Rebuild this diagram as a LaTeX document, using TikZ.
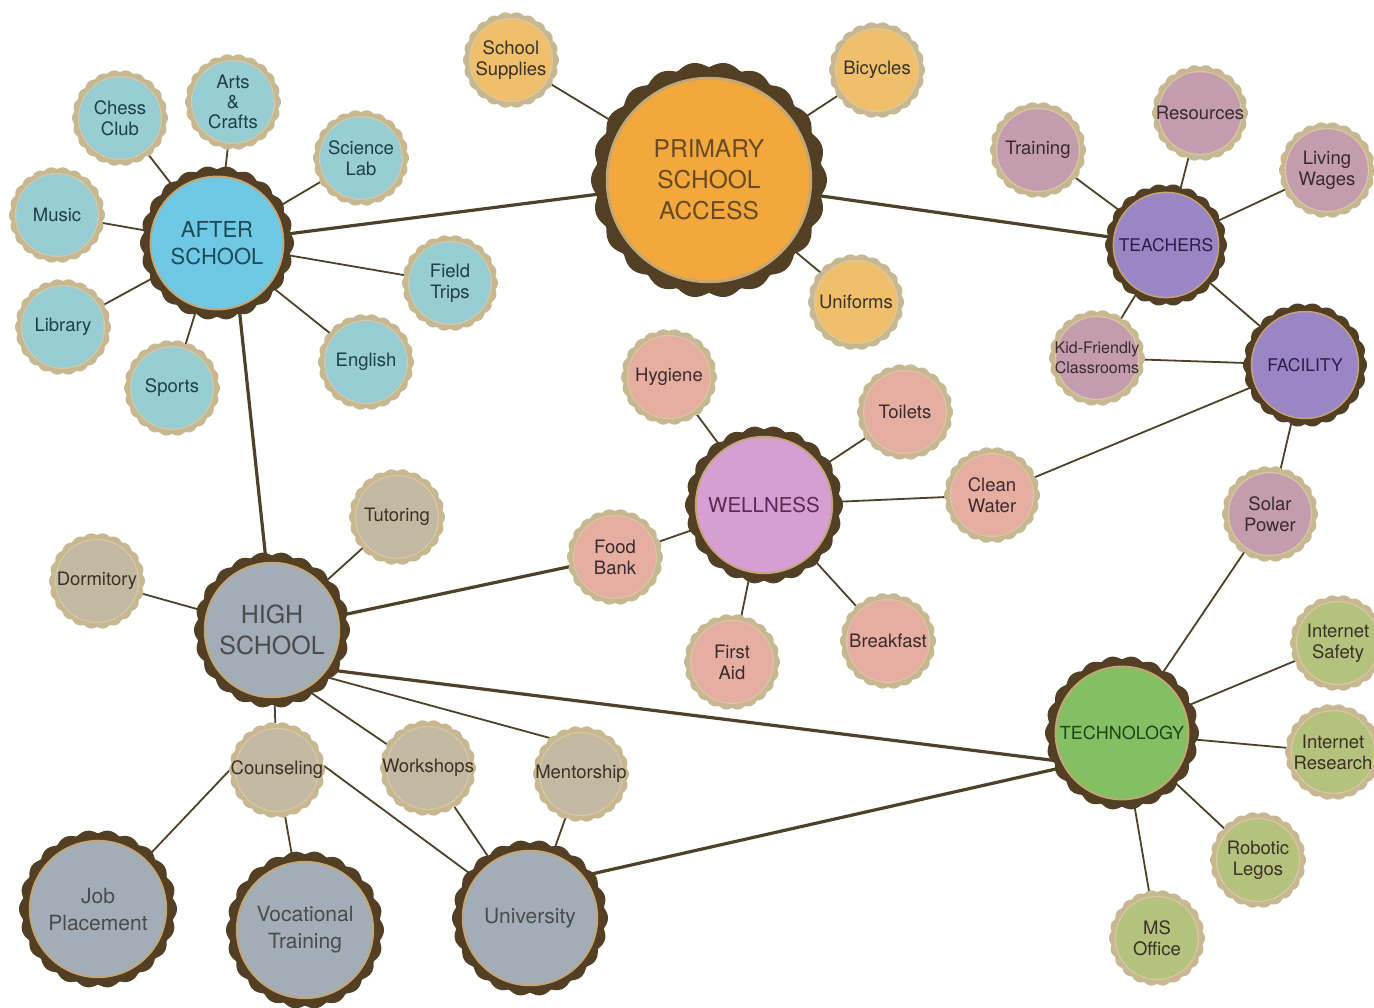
\documentclass[tikz,border=0pt]{standalone}
\usepackage{fontspec}
\setmainfont{TeX Gyre Heros}
\pgfdeclarelayer{edges}
\pgfdeclarelayer{caps}
\pgfsetlayers{edges,caps,main}
\definecolor{capbrown}{HTML}{523F24}
\definecolor{capglint}{HTML}{C4A674}
\definecolor{captan}{HTML}{C8B892}
\definecolor{tanglint}{HTML}{D8C9A4}
\definecolor{linecol}{HTML}{4E412A}
\definecolor{orangeS}{HTML}{EFBF6C}
\definecolor{orangeM}{HTML}{F2A83C}
\definecolor{tealS}{HTML}{98CDD3}
\definecolor{tealM}{HTML}{6FC9E4}
\definecolor{mauveS}{HTML}{C39DAD}
\definecolor{purpleM}{HTML}{9A85C5}
\definecolor{salmonS}{HTML}{E6AEA0}
\definecolor{orchidM}{HTML}{D69FD4}
\definecolor{grayS}{HTML}{C3B9A2}
\definecolor{slateM}{HTML}{A3ADB8}
\definecolor{greenS}{HTML}{B4C27D}
\definecolor{greenM}{HTML}{84BF63}
\definecolor{txtdark}{HTML}{3A3226}
\definecolor{txtteal}{HTML}{1E3F48}
\definecolor{txtbrown}{HTML}{6A4A20}
\definecolor{txtblue}{HTML}{1C4A5A}
\definecolor{txtgray}{HTML}{4B4B4B}
\definecolor{txtpurple}{HTML}{2A1F4A}
\definecolor{txtplum}{HTML}{5A2A52}
\definecolor{txtgreen}{HTML}{1D451A}
\definecolor{txtmauve}{HTML}{3A2A30}

% #1 node options, #2 name, #3 x, #4 y, #5 outer radius, #6 ring, #7 glint, #8 fill, #9 text
\newcommand{\capnode}[9][]{%
  \begin{pgfonlayer}{caps}
    \fill[#6, shift={(#3,#4)}] plot[domain=0:360, samples=331, variable=\t]
      ({\t}:{#5*(0.955+0.045*abs(cos(11*\t)))}) -- cycle;
    \fill[#7] (#3,#4) circle ({0.875*#5});
    \fill[#8] (#3,#4) circle ({0.85*#5});
  \end{pgfonlayer}
  \node[circle, inner sep=0pt, align=center, minimum size={1.9*#5*1pt}, #1] (#2) at (#3,#4) {#9};
}
\newcommand{\mainnode}[7][]{\capnode[#1]{#2}{#3}{#4}{#5}{capbrown}{capglint}{#6}{#7}}
\newcommand{\smallnode}[6][]{\capnode[#1]{#2}{#3}{#4}{48}{captan}{tanglint}{#5}{#6}}

\tikzset{
  smalltxt/.style={font=\fontsize{18.5}{21}\selectfont, text=txtdark},
  link/.style={draw=linecol, line width=1.8pt},
  heavy/.style={draw=linecol, line width=3.2pt},
}

\begin{document}
\begin{tikzpicture}[x=1pt, y=-1pt]
\useasboundingbox (0,0) rectangle (1374,1008);

% ---- main caps
\mainnode[font=\fontsize{24.5}{31}\selectfont, text=txtbrown]{psa}{709}{180}{118}{orangeM}{PRIMARY\\SCHOOL\\ACCESS}
\mainnode[font=\fontsize{22}{27}\selectfont, text=txtblue]{as}{217}{243}{77}{tealM}{AFTER\\SCHOOL}
\mainnode[font=\fontsize{17.5}{21}\selectfont, text=txtpurple]{teach}{1166}{245}{61}{purpleM}{TEACHERS}
\mainnode[font=\fontsize{17.5}{21}\selectfont, text=txtpurple]{fac}{1305}{365}{62}{purpleM}{FACILITY}
\mainnode[font=\fontsize{20.5}{25}\selectfont, text=txtplum]{well}{764}{505}{79}{orchidM}{WELLNESS}
\mainnode[font=\fontsize{25}{31}\selectfont, text=txtgray]{hs}{272}{630}{78}{slateM}{HIGH\\SCHOOL}
\mainnode[font=\fontsize{21}{27}\selectfont, text=txtgray]{job}{98}{909}{79}{slateM}{Job\\Placement}
\mainnode[font=\fontsize{21}{27}\selectfont, text=txtgray]{voc}{305}{930}{79}{slateM}{Vocational\\Training}
\mainnode[font=\fontsize{21}{27}\selectfont, text=txtgray]{univ}{530}{918}{78}{slateM}{University}
\mainnode[font=\fontsize{18}{22}\selectfont, text=txtgreen]{tech}{1122}{733}{77}{greenM}{TECHNOLOGY}

% ---- small caps: primary school
\smallnode[smalltxt]{ss}{511}{60}{orangeS}{School\\Supplies}
\smallnode[smalltxt]{bic}{877}{70}{orangeS}{Bicycles}
\smallnode[smalltxt]{unif}{856}{302}{orangeS}{Uniforms}
% after school
\smallnode[smalltxt, text=txtteal]{chess}{120}{118}{tealS}{Chess\\Club}
\smallnode[smalltxt, text=txtteal, font=\fontsize{18.5}{20}\selectfont]{arts}{233}{102}{tealS}{Arts\\\&\\Crafts}
\smallnode[smalltxt, text=txtteal]{sci}{361}{158}{tealS}{Science\\Lab}
\smallnode[smalltxt, text=txtteal]{music}{57}{215}{tealS}{Music}
\smallnode[smalltxt, text=txtteal]{field}{450}{283}{tealS}{Field\\Trips}
\smallnode[smalltxt, text=txtteal]{lib}{63}{327}{tealS}{Library}
\smallnode[smalltxt, text=txtteal]{sports}{172}{388}{tealS}{Sports}
\smallnode[smalltxt, text=txtteal]{eng}{366}{362}{tealS}{English}
% teachers / facility
\smallnode[smalltxt, text=txtmauve]{train}{1038}{150}{mauveS}{Training}
\smallnode[smalltxt, text=txtmauve]{res}{1200}{113}{mauveS}{Resources}
\smallnode[smalltxt, text=txtmauve]{living}{1327}{170}{mauveS}{Living\\Wages}
\smallnode[smalltxt, text=txtmauve, font=\fontsize{16}{20}\selectfont]{kid}{1097}{358}{mauveS}{Kid-Friendly\\Classrooms}
\smallnode[smalltxt, text=txtmauve]{solar}{1270}{514}{mauveS}{Solar\\Power}
% wellness
\smallnode[smalltxt, text=txtmauve]{hyg}{669}{377}{salmonS}{Hygiene}
\smallnode[smalltxt, text=txtmauve]{toil}{905}{412}{salmonS}{Toilets}
\smallnode[smalltxt, text=txtmauve]{clean}{992}{495}{salmonS}{Clean\\Water}
\smallnode[smalltxt, text=txtmauve]{food}{615}{557}{salmonS}{Food\\Bank}
\smallnode[smalltxt, text=txtmauve]{first}{732}{662}{salmonS}{First\\Aid}
\smallnode[smalltxt, text=txtmauve]{break}{888}{641}{salmonS}{Breakfast}
% high school
\smallnode[smalltxt]{tut}{397}{517}{grayS}{Tutoring}
\smallnode[smalltxt]{dorm}{97}{581}{grayS}{Dormitory}
\smallnode[smalltxt]{coun}{277}{770}{grayS}{Counseling}
\smallnode[smalltxt]{work}{428}{768}{grayS}{Workshops}
\smallnode[smalltxt]{ment}{581}{774}{grayS}{Mentorship}
% technology
\smallnode[smalltxt]{isafe}{1338}{643}{greenS}{Internet\\Safety}
\smallnode[smalltxt]{ires}{1333}{752}{greenS}{Internet\\Research}
\smallnode[smalltxt]{robo}{1258}{860}{greenS}{Robotic\\Legos}
\smallnode[smalltxt]{mso}{1157}{938}{greenS}{MS\\Office}

% ---- connectors
\begin{pgfonlayer}{edges}
\draw[heavy] (psa) -- (as);
\draw[heavy] (psa) -- (teach);
\draw[heavy] (as.-72) -- (hs.95);
\draw[heavy] (hs) -- (food);
\draw[heavy] (hs.-33) -- (tech.202);
\draw[heavy] (univ.36) -- (tech.209);

\draw[link] (psa) -- (ss);
\draw[link] (psa) -- (bic);
\draw[link] (psa) -- (unif);

\draw[link] (as) -- (chess);
\draw[link] (as) -- (arts);
\draw[link] (as) -- (sci);
\draw[link] (as) -- (music);
\draw[link] (as) -- (field);
\draw[link] (as) -- (lib);
\draw[link] (as) -- (sports);
\draw[link] (as) -- (eng);

\draw[link] (teach) -- (train);
\draw[link] (teach) -- (res);
\draw[link] (teach) -- (living);
\draw[link] (teach) -- (kid);
\draw[link] (teach) -- (fac);
\draw[link] (fac) -- (kid);
\draw[link] (fac) -- (clean);
\draw[link] (fac) -- (solar);

\draw[link] (well) -- (hyg);
\draw[link] (well) -- (toil);
\draw[link] (well) -- (clean);
\draw[link] (well) -- (food);
\draw[link] (well) -- (first);
\draw[link] (well) -- (break);

\draw[link] (hs) -- (tut);
\draw[link] (hs) -- (dorm);
\draw[link] (hs) -- (coun);
\draw[link] (hs.-58) -- (work.150);
\draw[link] (hs.-40) -- (ment.130);
\draw[link] (coun.west) -- (job);
\draw[link] (coun) -- (voc);
\draw[link] (coun.5) -- (univ);
\draw[link] (work) -- (univ);
\draw[link] (ment) -- (univ);

\draw[link] (tech) -- (solar);
\draw[link] (tech) -- (isafe);
\draw[link] (tech) -- (ires);
\draw[link] (tech) -- (robo);
\draw[link] (tech) -- (mso);
\end{pgfonlayer}
\end{tikzpicture}
\end{document}
